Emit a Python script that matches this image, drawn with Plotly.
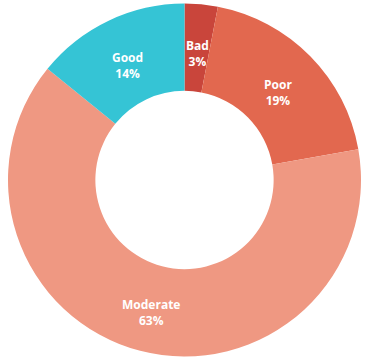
import math
import plotly.graph_objects as go

# Air quality category shares (percent)
categories = ["Bad", "Poor", "Moderate", "Good"]
shares = [3, 19, 63, 14]
colors = ["#c9453b", "#e2684f", "#ef9882", "#35c4d5"]

W, H = 365, 363
dom_x = [8 / W, 361 / W]
dom_y = [6 / H, 360 / H]
hole = 0.505

fig = go.Figure(
    go.Pie(
        labels=categories,
        values=shares,
        hole=hole,
        sort=False,
        direction="clockwise",
        rotation=0,
        marker=dict(colors=colors, line=dict(width=0)),
        textinfo="none",
        hoverinfo="label+value",
        domain=dict(x=dom_x, y=dom_y),
    )
)

# Place each label on its slice bisector, roughly midway across the ring
cx = (dom_x[0] + dom_x[1]) / 2 * W
cy = (dom_y[0] + dom_y[1]) / 2 * H - 5
r_out = min((dom_x[1] - dom_x[0]) * W, (dom_y[1] - dom_y[0]) * H) / 2
r_lab = r_out * (1 + hole) / 2 - 1
total = sum(shares)
cum = 0
annotations = []
for name, v in zip(categories, shares):
    mid = (cum + v / 2) / total * 2 * math.pi
    cum += v
    px = cx + r_lab * math.sin(mid)
    py = cy + r_lab * math.cos(mid)
    annotations.append(
        dict(
            x=px / W,
            y=py / H,
            xref="paper",
            yref="paper",
            xanchor="center",
            yanchor="middle",
            text=f"<b>{name}<br>{v}%</b>",
            showarrow=False,
            font=dict(family="Open Sans", size=12, color="white"),
            align="center",
        )
    )

fig.update_layout(
    width=W,
    height=H,
    margin=dict(l=0, r=0, t=0, b=0),
    showlegend=False,
    paper_bgcolor="white",
    annotations=annotations,
)

fig.write_html("out.html")
